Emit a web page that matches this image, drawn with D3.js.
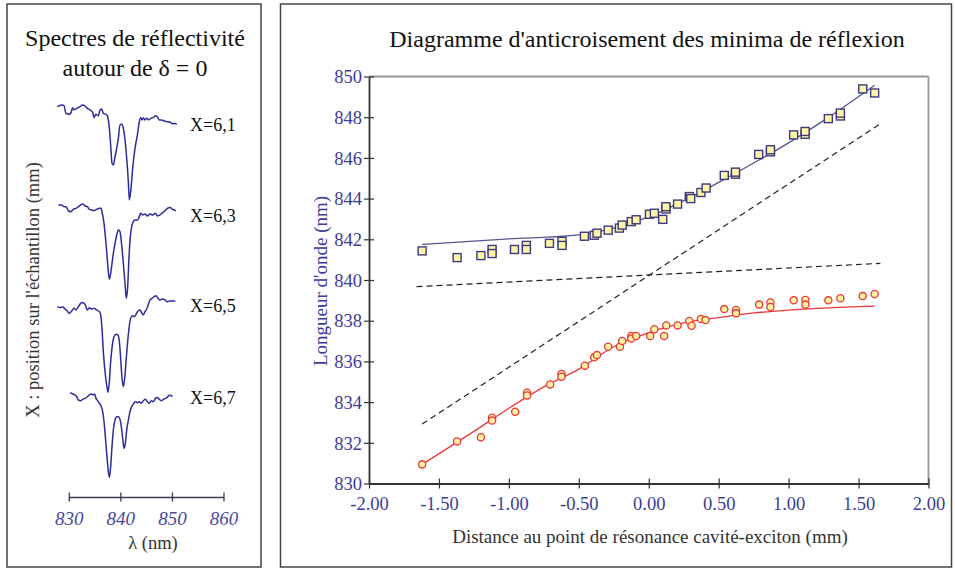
<!DOCTYPE html>
<html><head><meta charset="utf-8">
<script src="https://cdn.jsdelivr.net/npm/d3@7"></script>
<style>html,body{margin:0;padding:0;background:#fff;}svg{display:block;font-family:"Liberation Serif","Times New Roman",serif;}</style>
</head><body>
<svg id="c" width="955" height="571"></svg>
<script>
// ---------- Left panel: reflectivity spectra ----------
const specLabels = ["X=6,1", "X=6,3", "X=6,5", "X=6,7"];
const lambdaTicks = [830, 840, 850, 860];
const spec1L = [827.68,828.52,828.97,829.36,829.82,830.27,830.66,830.91,831.43,832.08,832.53,833.05,833.50,834.02,834.53,834.79,835.12,835.63,835.96,836.28,836.60,837.12,837.38,837.57,837.77,838.02,838.28,838.54,838.87,839.19,839.51,839.83,840.16,840.48,840.80,841.13,841.45,841.64,841.90,842.29,842.74,843.20,843.58,843.84,844.10,844.36,844.68,845.01,845.39,845.78,846.30,846.69,847.07,847.46,847.91,848.37,848.88,849.53,850.05,850.50,850.82];
const spec1R = [0.894,0.909,0.903,0.833,0.824,0.833,0.885,0.864,0.879,0.894,0.909,0.900,0.879,0.864,0.842,0.794,0.824,0.812,0.864,0.873,0.833,0.824,0.812,0.773,0.697,0.545,0.379,0.364,0.439,0.515,0.606,0.727,0.733,0.697,0.591,0.424,0.212,0.045,0.121,0.333,0.515,0.636,0.758,0.794,0.773,0.794,0.773,0.788,0.773,0.788,0.794,0.812,0.803,0.773,0.773,0.764,0.758,0.752,0.739,0.742,0.733];
const spec2L = [827.88,828.52,828.97,829.36,829.82,830.27,830.78,831.30,831.75,832.21,832.59,833.05,833.50,833.89,834.34,834.79,835.31,835.83,836.15,836.41,836.73,837.06,837.38,837.77,838.02,838.28,838.54,838.87,839.19,839.51,839.83,840.16,840.48,840.80,841.06,841.32,841.58,841.84,842.10,842.42,842.74,843.20,843.58,843.84,844.23,844.68,845.14,845.65,846.17,846.69,847.07,847.59,848.11,848.56,849.01,849.53,850.05,850.69];
const spec2R = [0.864,0.864,0.848,0.848,0.812,0.803,0.824,0.833,0.848,0.864,0.873,0.855,0.848,0.824,0.818,0.812,0.824,0.833,0.833,0.788,0.697,0.545,0.364,0.188,0.242,0.333,0.424,0.515,0.591,0.636,0.621,0.500,0.333,0.152,0.015,0.121,0.394,0.576,0.667,0.712,0.727,0.727,0.758,0.788,0.773,0.782,0.764,0.782,0.773,0.788,0.764,0.773,0.794,0.812,0.833,0.842,0.824,0.812];
const spec3L = [827.68,828.20,828.72,829.17,829.62,830.01,830.46,830.91,831.30,831.75,832.21,832.59,833.05,833.50,833.89,834.34,834.79,835.31,835.83,836.09,836.34,836.60,836.93,837.25,837.51,837.77,838.02,838.35,838.67,839.06,839.45,839.71,839.96,840.22,840.48,840.74,841.00,841.26,841.58,841.90,842.29,842.61,842.94,843.33,843.71,844.10,844.36,844.68,845.01,845.33,845.65,846.04,846.43,846.82,847.20,847.59,848.11,848.56,849.01,849.53,850.05,850.57];
const spec3R = [0.803,0.794,0.803,0.782,0.764,0.742,0.764,0.788,0.773,0.803,0.833,0.842,0.824,0.773,0.794,0.782,0.788,0.773,0.758,0.727,0.606,0.394,0.212,0.091,0.024,0.121,0.303,0.455,0.530,0.552,0.545,0.485,0.333,0.152,0.076,0.152,0.303,0.455,0.606,0.697,0.721,0.712,0.733,0.764,0.773,0.742,0.727,0.758,0.782,0.824,0.864,0.879,0.894,0.903,0.879,0.864,0.873,0.864,0.848,0.855,0.855,0.855];
const spec4L = [830.14,830.66,831.11,831.43,831.75,832.21,832.59,833.05,833.50,833.89,834.34,834.66,834.92,835.18,835.50,835.83,836.15,836.47,836.73,836.99,837.25,837.51,837.77,838.02,838.28,838.54,838.87,839.19,839.51,839.83,840.09,840.35,840.61,840.87,841.13,841.45,841.77,842.10,842.42,842.81,843.20,843.58,843.97,844.36,844.75,845.14,845.52,845.91,846.30,846.69,847.07,847.46,847.85,848.24,848.63,849.01,849.40,849.79,850.05];
const spec4R = [0.885,0.873,0.864,0.848,0.818,0.812,0.824,0.833,0.848,0.864,0.873,0.864,0.873,0.833,0.812,0.788,0.764,0.712,0.621,0.485,0.333,0.197,0.115,0.212,0.394,0.545,0.636,0.667,0.667,0.642,0.576,0.470,0.379,0.424,0.545,0.636,0.712,0.758,0.782,0.803,0.794,0.803,0.788,0.812,0.824,0.803,0.788,0.812,0.803,0.833,0.842,0.824,0.812,0.824,0.833,0.842,0.864,0.855,0.855];

// ---------- Right panel: anticrossing diagram ----------
const xTicks = [-2.0,-1.5,-1.0,-0.5,0.0,0.5,1.0,1.5,2.0];
const yTicks = [830,832,834,836,838,840,842,844,846,848,850];
const upperX = [-1.62,-1.37,-1.20,-1.12,-1.12,-0.96,-0.875,-0.875,-0.71,-0.62,-0.62,-0.46,-0.39,-0.37,-0.29,-0.21,-0.19,-0.125,-0.09,0.005,0.04,0.10,0.123,0.123,0.206,0.29,0.30,0.373,0.41,0.54,0.62,0.62,0.786,0.87,0.87,1.036,1.118,1.118,1.284,1.37,1.37,1.53,1.615];
const upperY = [841.43,841.1,841.2,841.5,841.3,841.5,841.7,841.5,841.8,841.9,841.7,842.15,842.2,842.3,842.45,842.55,842.7,842.87,842.96,843.23,843.28,842.98,843.49,843.6,843.73,844.1,844.0,844.3,844.52,845.14,845.2,845.3,846.17,846.3,846.4,847.13,847.16,847.3,847.93,848.06,848.2,849.39,849.19];
const lowerX = [-1.62,-1.37,-1.20,-1.12,-1.12,-0.955,-0.87,-0.87,-0.705,-0.624,-0.624,-0.457,-0.39,-0.37,-0.29,-0.206,-0.19,-0.125,-0.125,-0.09,0.01,0.04,0.11,0.125,0.206,0.29,0.306,0.373,0.406,0.54,0.624,0.624,0.789,0.87,0.87,1.036,1.12,1.12,1.284,1.37,1.53,1.615];
const lowerY = [830.94,832.07,832.27,833.23,833.09,833.53,834.46,834.33,834.87,835.38,835.25,835.79,836.2,836.31,836.72,836.72,837.0,837.25,837.12,837.25,837.25,837.58,837.25,837.77,837.77,837.99,837.75,838.08,838.03,838.57,838.53,838.36,838.79,838.9,838.67,839.0,839.02,838.79,839.0,839.1,839.21,839.31];
const upperFitX = [-1.62,-1.0,-0.5,-0.25,0,0.25,0.5,0.75,1.0,1.25,1.615];
const upperFitY = [841.75,842.02,842.22,842.55,843.1,843.9,844.8,845.75,846.74,847.83,849.57];
const lowerFitX = [-1.62,-1.25,-1.0,-0.75,-0.5,-0.25,0,0.25,0.5,0.75,1.0,1.25,1.615];
const lowerFitY = [830.94,832.56,833.7,834.75,835.62,836.72,837.41,837.89,838.15,838.38,838.52,838.62,838.72];
const excitonX = [-1.66, 1.656];
const excitonY = [839.67, 840.82];
const cavityX = [-1.62, 1.65];
const cavityY = [832.92, 847.65];

const svg = d3.select("#c");
const BLUE = "#3c3c9a";
const NAVY = "#2c2c9c";
const SERIF = "Liberation Serif";

// Panel borders
svg.append("rect").attr("x",7).attr("y",4).attr("width",254).attr("height",563)
  .attr("fill","none").attr("stroke","#444").attr("stroke-width",1.5);
svg.append("rect").attr("x",280.5).attr("y",4).attr("width",671).attr("height",563)
  .attr("fill","none").attr("stroke","#444").attr("stroke-width",1.5);

// ---- Left panel ----
const lp = svg.append("g");
lp.append("text").attr("x",135).attr("y",46).attr("text-anchor","middle")
  .attr("font-size",24).attr("fill","#111").text("Spectres de réflectivité");
lp.append("text").attr("x",135).attr("y",76).attr("text-anchor","middle")
  .attr("font-size",24).attr("fill","#111").text("autour de δ = 0");
lp.append("text").attr("transform","translate(39,290) rotate(-90)").attr("text-anchor","middle")
  .attr("font-size",18.5).attr("fill","#333").text("X : position sur l'échantillon (mm)");

const xl = d3.scaleLinear().domain([830,860]).range([69.3,224]);
const rl = d3.scaleLinear().domain([0,1]).range([110,0]);
const specs = [[spec1L,spec1R],[spec2L,spec2R],[spec3L,spec3R],[spec4L,spec4R]];
const specTops = [95, 190, 285, 380];
const labelY = [131, 222, 312, 404];
specs.forEach((s,i) => {
  const pts = s[0].map((l,j) => [l, s[1][j]]);
  const line = d3.line().x(d => xl(d[0])).y(d => rl(d[1])).curve(d3.curveMonotoneX);
  lp.append("path").attr("transform",`translate(0,${specTops[i]})`)
    .attr("d", line(pts)).attr("fill","none").attr("stroke",NAVY).attr("stroke-width",1.5);
  lp.append("text").attr("x",190).attr("y",labelY[i]).attr("font-size",18).attr("fill","#111").text(specLabels[i]);
});
const axL = lp.append("g").attr("transform","translate(0,497.5)");
axL.append("line").attr("x1",xl(830)).attr("x2",xl(860)).attr("stroke","#3a3a55").attr("stroke-width",1.5);
lambdaTicks.forEach(t => {
  axL.append("line").attr("x1",xl(t)).attr("x2",xl(t)).attr("y1",-5).attr("y2",4).attr("stroke","#3a3a55").attr("stroke-width",1.3);
  axL.append("text").attr("x",xl(t)).attr("y",27).attr("text-anchor","middle").attr("font-size",19)
    .attr("font-style","italic").attr("fill","#4848a0").text(t);
});
lp.append("text").attr("x",153).attr("y",549).attr("text-anchor","middle").attr("font-size",18.5)
  .attr("fill","#333").text("λ (nm)");

// ---- Right panel ----
const X0 = 369, X1 = 928.5, Y0 = 483.5, Y1 = 76.5;
const xs = d3.scaleLinear().domain([-2,2]).range([X0,X1]);
const ys = d3.scaleLinear().domain([830,850]).range([Y0,Y1]);
const rp = svg.append("g");
rp.append("text").attr("x",647).attr("y",47).attr("text-anchor","middle").attr("font-size",24)
  .attr("fill","#111").text("Diagramme d'anticroisement des minima de réflexion");
// frame (top & right grey)
rp.append("line").attr("x1",X0).attr("x2",X1).attr("y1",Y1).attr("y2",Y1).attr("stroke","#9a9696").attr("stroke-width",1.8);
rp.append("line").attr("x1",X1).attr("x2",X1).attr("y1",Y1).attr("y2",Y0).attr("stroke","#9a9696").attr("stroke-width",1.8);

// axes
const fmtX = d => d3.format(".2f")(d).replace("\u2212","-");
const gx = rp.append("g").attr("transform",`translate(0,${Y0})`)
  .call(d3.axisBottom(xs).tickValues(xTicks).tickFormat(fmtX).tickSize(5).tickSizeOuter(0));
gx.attr("font-family",SERIF);
gx.select(".domain").attr("stroke","#333").attr("stroke-width",1.8);
gx.selectAll(".tick line").attr("stroke","#333").attr("stroke-width",1.2).attr("y1",-5).attr("y2",5);
gx.selectAll(".tick text").attr("font-family",SERIF).attr("font-size",18.5).attr("fill",BLUE).attr("dy",0).attr("y",26);
const gy = rp.append("g").attr("transform",`translate(${X0},0)`)
  .call(d3.axisLeft(ys).tickValues(yTicks).tickFormat(d3.format("d")).tickSize(5).tickSizeOuter(0));
gy.attr("font-family",SERIF);
gy.select(".domain").attr("stroke","#333").attr("stroke-width",1.8);
gy.selectAll(".tick line").attr("stroke","#333").attr("stroke-width",1.2).attr("x1",-5).attr("x2",5);
gy.selectAll(".tick text").attr("font-family",SERIF).attr("font-size",18.5).attr("fill",BLUE).attr("x",-7).attr("dy","0.34em");

rp.append("text").attr("x",650).attr("y",543).attr("text-anchor","middle").attr("font-size",19)
  .attr("fill","#333").text("Distance au point de résonance cavité-exciton (mm)");
rp.append("text").attr("transform","translate(327,281) rotate(-90)").attr("text-anchor","middle")
  .attr("font-size",19).attr("fill",BLUE).text("Longueur d'onde (nm)");

// dashed uncoupled modes
const ln = d3.line().x(d => xs(d[0])).y(d => ys(d[1]));
rp.append("path").attr("d", ln(excitonX.map((x,i)=>[x,excitonY[i]]))).attr("fill","none")
  .attr("stroke","#222").attr("stroke-width",1.2).attr("stroke-dasharray","6,4");
rp.append("path").attr("d", ln(cavityX.map((x,i)=>[x,cavityY[i]]))).attr("fill","none")
  .attr("stroke","#222").attr("stroke-width",1.2).attr("stroke-dasharray","6,4");

// fits
const lc = d3.line().x(d => xs(d[0])).y(d => ys(d[1])).curve(d3.curveMonotoneX);
rp.append("path").attr("d", lc(upperFitX.map((x,i)=>[x,upperFitY[i]]))).attr("fill","none")
  .attr("stroke","#55558f").attr("stroke-width",1.3);
rp.append("path").attr("d", lc(lowerFitX.map((x,i)=>[x,lowerFitY[i]]))).attr("fill","none")
  .attr("stroke","#e8383a").attr("stroke-width",1.3);

// points
const S = 8;
rp.append("g").selectAll("rect").data(upperX.map((x,i)=>[x,upperY[i]])).join("rect")
  .attr("x", d => xs(d[0]) - S/2).attr("y", d => ys(d[1]) - S/2).attr("width",S).attr("height",S)
  .attr("fill","#fff4a6").attr("stroke","#3d3a80").attr("stroke-width",1.4);
rp.append("g").selectAll("circle").data(lowerX.map((x,i)=>[x,lowerY[i]])).join("circle")
  .attr("cx", d => xs(d[0])).attr("cy", d => ys(d[1])).attr("r",3.6)
  .attr("fill","#fff2a0").attr("stroke","#e8383a").attr("stroke-width",1.3);
</script>
</body></html>
